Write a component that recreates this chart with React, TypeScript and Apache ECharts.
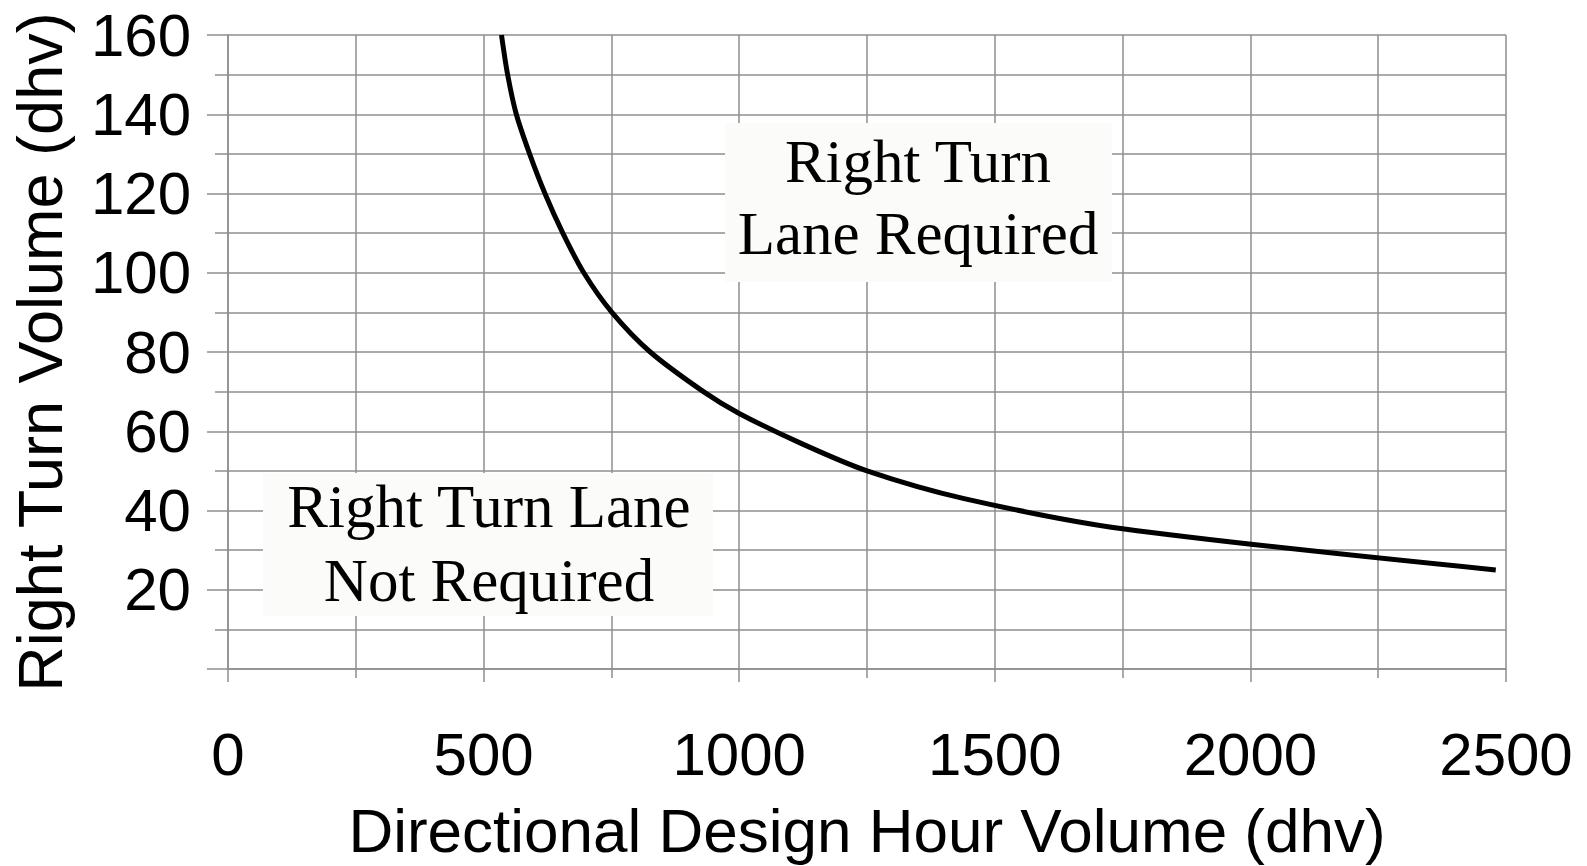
import React, { useEffect, useRef } from "react";
import * as echarts from "echarts";

const dhv = [535, 547, 564, 590, 620, 655, 696, 751, 826, 930, 1000, 1120, 1250, 1440, 1750, 2480];
const rightTurn = [160, 150, 140, 130, 120, 110, 100, 90, 80, 70, 64.5, 57, 50, 43, 35.4, 25];

const xTitle = "Directional Design Hour Volume (dhv)";
const yTitle = "Right Turn Volume (dhv)";
const upperNote = "Right Turn\nLane Required";
const lowerNote = "Right Turn Lane\nNot Required";

const GRID = "#8e8e8e";
const SANS = "'Liberation Sans', Arial, sans-serif";
const SERIF = "'Liberation Serif', 'Times New Roman', serif";

export default function App() {
  const ref = useRef<HTMLDivElement>(null);
  useEffect(() => {
    if (!ref.current) return;
    const chart = echarts.init(ref.current, undefined, { renderer: "svg" });
    const lineStyle = { color: GRID, width: 1.5 };
    const noteText = (text: string, x: number, y: number, lh: number) => ({
      type: "text",
      x,
      y,
      z: 100,
      style: {
        text,
        fontSize: 61,
        fontFamily: SERIF,
        fill: "#000",
        align: "center",
        verticalAlign: "middle",
        lineHeight: lh,
      },
    });
    chart.setOption({
      animation: false,
      backgroundColor: "#ffffff",
      grid: { left: 227, right: 81, top: 35, bottom: 193, containLabel: false },
      xAxis: {
        type: "value",
        min: 0,
        max: 2500,
        interval: 500,
        name: xTitle,
        nameLocation: "middle",
        nameGap: 130,
        nameTextStyle: { fontSize: 62, color: "#000", fontFamily: SANS },
        axisLine: { show: true, lineStyle },
        axisTick: { show: true, length: 13, lineStyle },
        minorTick: { show: true, splitNumber: 2, length: 9, lineStyle },
        splitLine: { show: true, lineStyle },
        minorSplitLine: { show: true, lineStyle },
        axisLabel: {
          fontSize: 60,
          color: "#000",
          fontFamily: SANS,
          margin: 55,
          formatter: (v: number) => String(v),
        },
      },
      yAxis: {
        type: "value",
        min: 0,
        max: 160,
        interval: 20,
        name: yTitle,
        nameLocation: "middle",
        nameGap: 157,
        nameTextStyle: { fontSize: 63, color: "#000", fontFamily: SANS },
        axisLine: { show: true, lineStyle },
        axisTick: { show: true, length: 21, lineStyle },
        minorTick: { show: true, splitNumber: 2, length: 13, lineStyle },
        splitLine: { show: true, lineStyle },
        minorSplitLine: { show: true, lineStyle },
        axisLabel: {
          fontSize: 60,
          color: "#000",
          fontFamily: SANS,
          margin: 37,
          formatter: (v: number) => (v === 0 ? "" : String(v)),
        },
      },
      series: [
        {
          type: "line",
          data: dhv.map((x, i) => [x, rightTurn[i]]),
          showSymbol: false,
          smooth: 0.3,
          lineStyle: { color: "#000", width: 5 },
          z: 3,
        },
      ],
      graphic: [
        { type: "rect", z: 99, shape: { x: 725, y: 123, width: 387, height: 159 }, style: { fill: "#fbfbf9" } },
        noteText(upperNote, 918, 197.5, 72),
        { type: "rect", z: 99, shape: { x: 263, y: 473, width: 450, height: 143 }, style: { fill: "#fbfbf9" } },
        noteText(lowerNote, 489, 543.7, 74),
      ],
    });
    return () => chart.dispose();
  }, []);
  return (
    <div
      ref={ref}
      style={{ position: "fixed", left: 0, top: 0, width: 1587, height: 866, background: "#fff" }}
    />
  );
}
